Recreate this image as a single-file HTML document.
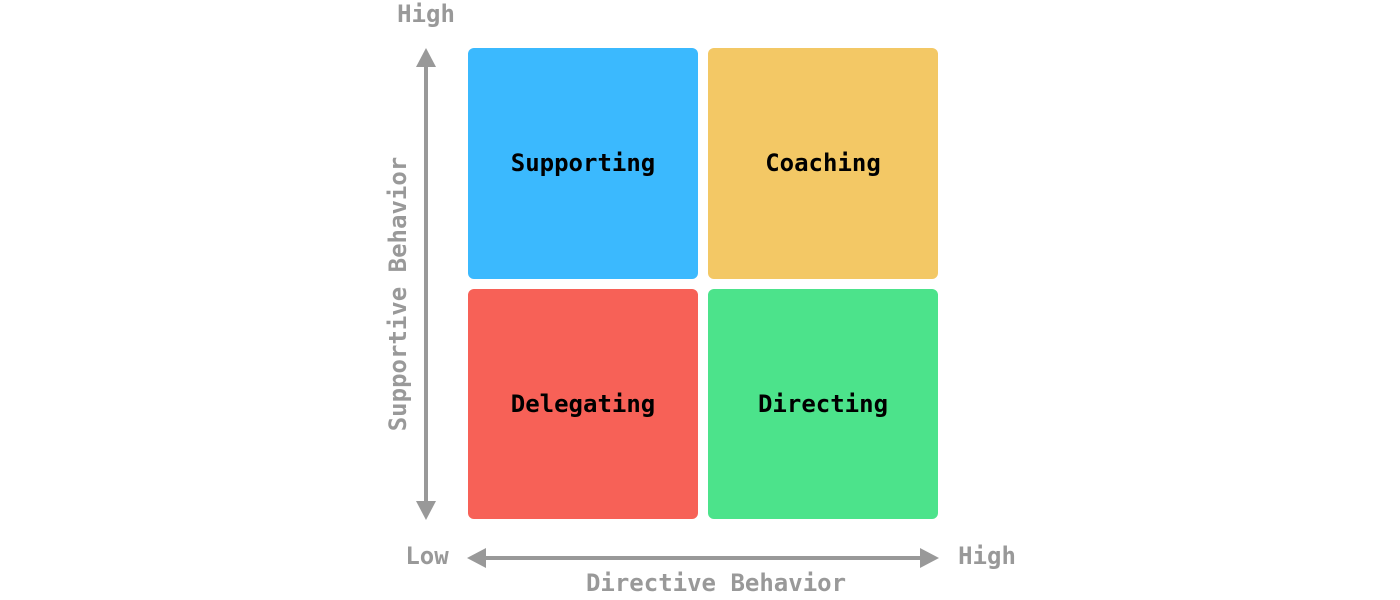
<!DOCTYPE html>
<html><head><meta charset="utf-8"><style>
html,body{margin:0;padding:0;background:#fff;width:1400px;height:600px;overflow:hidden}
svg text{font-family:"DejaVu Sans Mono","Liberation Mono",monospace;font-weight:bold;font-size:24px}
</style></head><body>
<svg width="1400" height="600" viewBox="0 0 1400 600" xmlns="http://www.w3.org/2000/svg">
<rect x="468" y="48" width="230" height="231" rx="6" fill="#3bb9fe"/>
<rect x="708" y="48" width="230" height="231" rx="6" fill="#f3c865"/>
<rect x="468" y="289" width="230" height="230" rx="6" fill="#f76157"/>
<rect x="708" y="289" width="230" height="230" rx="6" fill="#4ce38b"/>
<g fill="#000" text-anchor="middle" dominant-baseline="central">
<text x="583" y="163">Supporting</text>
<text x="823" y="163">Coaching</text>
<text x="583" y="404">Delegating</text>
<text x="823" y="404">Directing</text>
</g>
<g stroke="#999" stroke-width="4" fill="none">
<line x1="426" y1="62" x2="426" y2="506"/>
<line x1="481" y1="558" x2="925" y2="558"/>
</g>
<g fill="#999">
<polygon points="426,48 416,67 436,67"/>
<polygon points="426,520 416,501 436,501"/>
<polygon points="467,558 486,548 486,568"/>
<polygon points="939,558 920,548 920,568"/>
</g>
<g fill="#999" text-anchor="middle" dominant-baseline="central">
<text x="426" y="14">High</text>
<text x="427" y="556">Low</text>
<text x="987" y="556">High</text>
<text x="716" y="583">Directive Behavior</text>
<text x="398" y="294" transform="rotate(-90 398 294)">Supportive Behavior</text>
</g>
</svg>
</body></html>
